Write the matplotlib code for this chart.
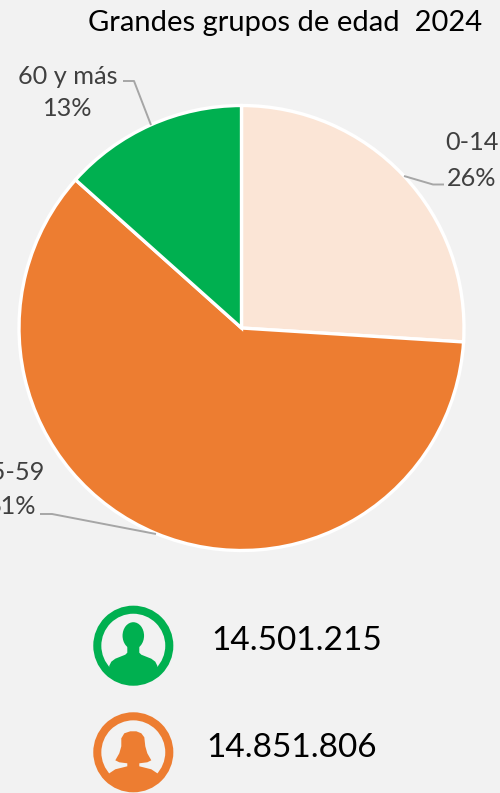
"""Grandes grupos de edad 2024, pie chart with population counters."""

import matplotlib
matplotlib.use('Agg')
import matplotlib.pyplot as plt
from matplotlib.patches import Circle, Ellipse, Polygon

plt.rcParams['font.family'] = ['Lato', 'DejaVu Sans']

# Data
groups = ['0-14', '15-59', '60 y más']
shares = [26.0, 60.6, 13.4]
share_labels = ['26%', '61%', '13%']
colors = ['#FBE5D6', '#ED7D31', '#00B050']
title = 'Grandes grupos de edad  2024'
men = '14.501.215'
women = '14.851.806'

W, H = 500, 793
BG = '#F2F2F2'
LABEL = '#404040'
LEADER = '#A6A6A6'


def py(y):
    # picture pixels count from the top, the axes from the bottom
    return H - y


def pts(points):
    return [(x, py(y)) for x, y in points]


fig = plt.figure(figsize=(W / 100, H / 100), dpi=100, facecolor=BG)
ax = fig.add_axes([0, 0, 1, 1])
ax.set_xlim(0, W)
ax.set_ylim(0, H)
ax.axis('off')

ax.pie(shares, colors=colors, startangle=90, counterclock=False,
       center=(241.5, py(328)), radius=222.5, frame=True,
       wedgeprops={'edgecolor': 'white', 'linewidth': 2.4})
ax.set_xlim(0, W)
ax.set_ylim(0, H)
ax.axis('off')

ax.text(285, py(22.5), title, fontsize=21, color='black', ha='center', va='center')

# Data labels with their leader lines; the 15-59 label runs off the left edge as in the reference
label_pos = [(472, 143, 178, 'center'), (45, 473, 506, 'right'), (68, 76, 109, 'center')]
leaders = [
    [(444, 184.5), (433, 184.5), (404, 176)],
    [(40, 514), (52, 514), (156, 534)],
    [(123, 81), (134, 81), (151, 125)],
]
for name, share, (x, y1, y2, ha), line in zip(groups, share_labels, label_pos, leaders):
    ax.text(x, py(y1), name, fontsize=18.2, color=LABEL, ha=ha, va='center')
    # 61% ends a little before 15-59
    x2 = x - 9 if ha == 'right' else x
    ax.text(x2, py(y2), share, fontsize=18.2, color=LABEL, ha=ha, va='center')
    xs, ys = zip(*pts(line))
    ax.plot(xs, ys, color=LEADER, lw=1.4, solid_capstyle='butt')


def ring(cx, cy, color):
    # Filled ring around the person icon; returns the inner circle to clip with
    ax.add_patch(Circle((cx, py(cy)), 36, facecolor='none', edgecolor=color, lw=5.8))
    return Circle((cx, py(cy)), 33, transform=ax.transData)


def add_shape(patch, clip):
    ax.add_patch(patch)
    patch.set_clip_path(clip)


# Man icon
cx, cy = 133.3, 645.7
clip = ring(cx, cy, colors[2])
add_shape(Ellipse((cx, py(cy - 10)), 21.5, 27, color=colors[2], lw=0), clip)
add_shape(Polygon(pts([(cx - 6, cy - 2), (cx + 6, cy - 2), (cx + 6, cy + 7), (cx + 8, cy + 9),
                       (cx + 18, cy + 13), (cx + 22, cy + 16), (cx + 24, cy + 20), (cx + 25, cy + 40),
                       (cx - 25, cy + 40), (cx - 24, cy + 20), (cx - 22, cy + 16), (cx - 18, cy + 13),
                       (cx - 8, cy + 9), (cx - 6, cy + 7)]),
                  color=colors[2], lw=0), clip)

# Woman icon
cx, cy = 133.3, 752.3
clip = ring(cx, cy, colors[1])
add_shape(Polygon(pts([(cx - 3, cy - 21), (cx + 3, cy - 21), (cx + 8, cy - 19), (cx + 11, cy - 15),
                       (cx + 12, cy - 6), (cx + 14, cy + 1), (cx + 18, cy + 8), (cx + 14, cy + 10),
                       (cx + 6, cy + 11), (cx - 6, cy + 11), (cx - 14, cy + 10), (cx - 18, cy + 8),
                       (cx - 14, cy + 1), (cx - 12, cy - 6), (cx - 12, cy - 14), (cx - 9, cy - 19)]),
                  color=colors[1], lw=0), clip)
add_shape(Polygon(pts([(cx - 6, cy + 9), (cx + 6, cy + 9), (cx + 6, cy + 14), (cx + 18, cy + 17),
                       (cx + 24, cy + 21), (cx + 30, cy + 40), (cx - 30, cy + 40), (cx - 24, cy + 21),
                       (cx - 18, cy + 17), (cx - 6, cy + 14)]),
                  color=colors[1], lw=0), clip)

ax.text(297, py(641), men, fontsize=24, color='black', ha='center', va='center')
ax.text(292, py(748), women, fontsize=24, color='black', ha='center', va='center')

fig.savefig('out.png', dpi=100, facecolor=BG)
